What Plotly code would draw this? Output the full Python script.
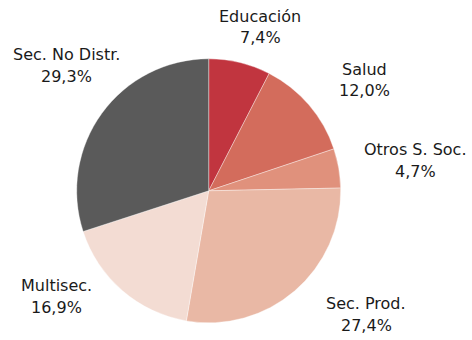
import plotly.graph_objects as go

# Distribution by sector (%)
sectors = ["Educación", "Salud", "Otros S. Soc.", "Sec. Prod.", "Multisec.", "Sec. No Distr."]
shares = [7.4, 12.0, 4.7, 27.4, 16.9, 29.3]
colors = ["#C1353F", "#D36C5C", "#E0917C", "#E9B8A5", "#F3DCD3", "#5A5A5A"]

# Label anchor positions in pixels (center of the name line; value line sits below)
label_x = [260, 364, 415, 366, 56, 66]
label_name_y = [16, 69.5, 149.5, 303.5, 285.5, 55]
label_gap = 21.5

W, H = 472, 340
cx, cy, R = 208.7, 190.8, 132.0

fig = go.Figure(
    go.Pie(
        labels=sectors,
        values=shares,
        sort=False,
        direction="clockwise",
        rotation=0,
        marker=dict(colors=colors, line=dict(color="rgba(255,255,255,0.6)", width=0.6)),
        textinfo="none",
        hoverinfo="label+percent",
        showlegend=False,
        domain=dict(
            x=[(cx - R) / W, (cx + R) / W],
            y=[(H - cy - R) / H, (H - cy + R) / H],
        ),
    )
)

font = dict(family="DejaVu Sans", size=16, color="#1A1A1A")
annotations = []
for name, val, x, y in zip(sectors, shares, label_x, label_name_y):
    pct = f"{val:.1f}".replace(".", ",") + "%"
    for txt, yy in ((name, y), (pct, y + label_gap)):
        annotations.append(
            dict(
                text=txt,
                x=x / W,
                y=1 - yy / H,
                xref="paper",
                yref="paper",
                xanchor="center",
                yanchor="middle",
                showarrow=False,
                font=font,
            )
        )

fig.update_layout(
    width=W,
    height=H,
    margin=dict(l=0, r=0, t=0, b=0),
    paper_bgcolor="white",
    plot_bgcolor="white",
    annotations=annotations,
)

fig.write_html("out.html")
